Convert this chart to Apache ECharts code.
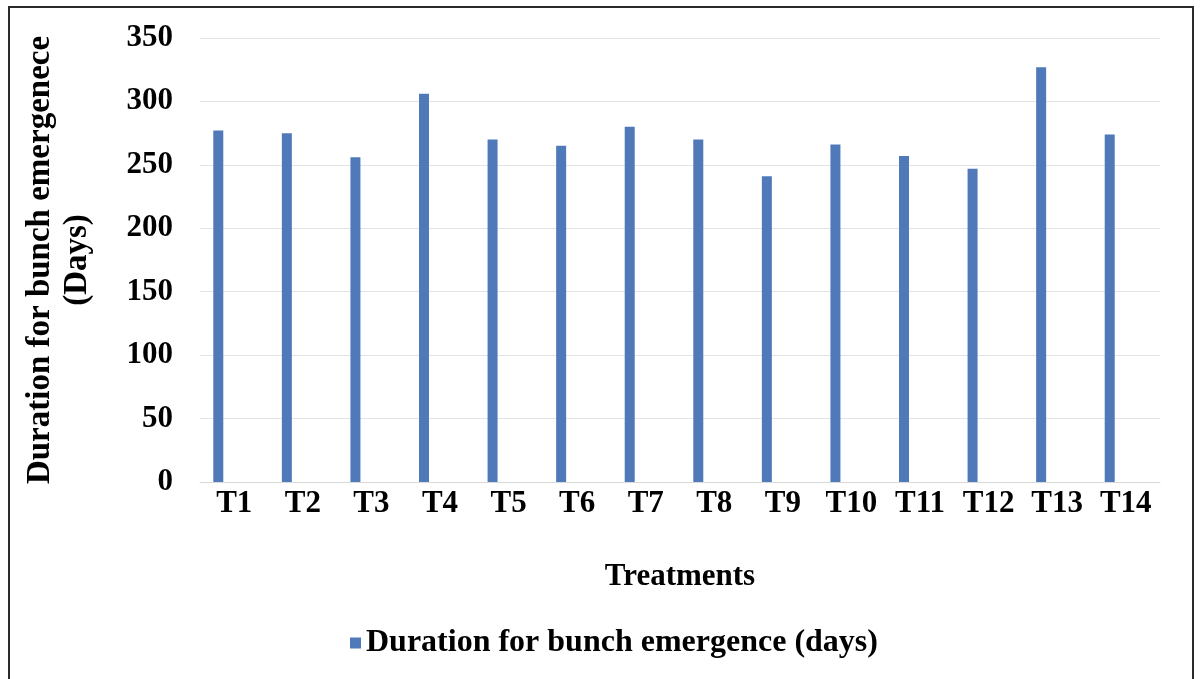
<!DOCTYPE html>
<html>
<head>
<meta charset="utf-8">
<title>Duration for bunch emergence</title>
<script src="https://cdn.jsdelivr.net/npm/echarts@6/dist/echarts.min.js"></script>
<style>
  html, body { margin: 0; padding: 0; background: #ffffff; }
  #chart { width: 1201px; height: 679px; }
</style>
</head>
<body>
<div id="chart"></div>
<script>
// Treatments on the x axis
const categories = ['T1', 'T2', 'T3', 'T4', 'T5', 'T6', 'T7', 'T8', 'T9', 'T10', 'T11', 'T12', 'T13', 'T14'];
// Days from planting to bunch emergence, per treatment
const durationDays = [277, 275, 256, 306, 270, 265, 280, 270, 241, 266, 257, 247, 327, 274];
// Empty companion series (keeps the bar sitting left of the category centre)
const emptySeries = categories.map(() => null);
// Value axis range
const yMin = 0;
const yMax = 350;
const yStep = 50;

const seriesName = 'Duration for bunch emergence (days)';
const yTitle = 'Duration for bunch emergenece\n(Days)';
const xTitle = 'Treatments';

const serif = '"Liberation Serif", "Times New Roman", serif';
const barColor = '#5079b9';

const chart = echarts.init(document.getElementById('chart'), null, { renderer: 'canvas' });

chart.setOption({
  backgroundColor: '#ffffff',
  animation: false,
  graphic: [{
    type: 'rect',
    shape: { x: 9, y: 7, width: 1184, height: 700 },
    style: { fill: 'none', stroke: '#2b2b2b', lineWidth: 2 },
    silent: true
  }],
  grid: { left: 200, right: 41, top: 38, bottom: 197, containLabel: false },
  legend: {
    data: [seriesName],
    left: 345,
    top: 622,
    icon: 'rect',
    itemWidth: 11,
    itemHeight: 11,
    itemGap: 4,
    textStyle: { fontFamily: serif, fontWeight: 'bold', fontSize: 32, color: '#000000' }
  },
  xAxis: {
    type: 'category',
    data: categories,
    axisLine: { show: true, lineStyle: { color: '#d9d9d9', width: 1 } },
    axisTick: { show: false },
    axisLabel: { margin: 6, fontFamily: serif, fontWeight: 'bold', fontSize: 31, color: '#000000' },
    name: xTitle,
    nameLocation: 'middle',
    nameGap: 79,
    nameTextStyle: { fontFamily: serif, fontWeight: 'bold', fontSize: 31, color: '#000000' }
  },
  yAxis: {
    type: 'value',
    min: yMin,
    max: yMax,
    interval: yStep,
    axisLine: { show: false },
    axisTick: { show: false },
    splitLine: { lineStyle: { color: '#e3e3e3', width: 1 } },
    axisLabel: { margin: 27, fontFamily: serif, fontWeight: 'bold', fontSize: 31, color: '#000000' },
    name: yTitle,
    nameLocation: 'middle',
    nameRotate: 90,
    nameGap: 104,
    nameTextStyle: { fontFamily: serif, fontWeight: 'bold', fontSize: 33, color: '#000000', lineHeight: 37 }
  },
  series: [
    {
      name: seriesName,
      type: 'bar',
      data: durationDays,
      barWidth: 10,
      barGap: '220%',
      itemStyle: { color: barColor }
    },
    {
      name: 'spacer',
      type: 'bar',
      data: emptySeries,
      barWidth: 10,
      silent: true
    }
  ]
});
</script>
</body>
</html>
